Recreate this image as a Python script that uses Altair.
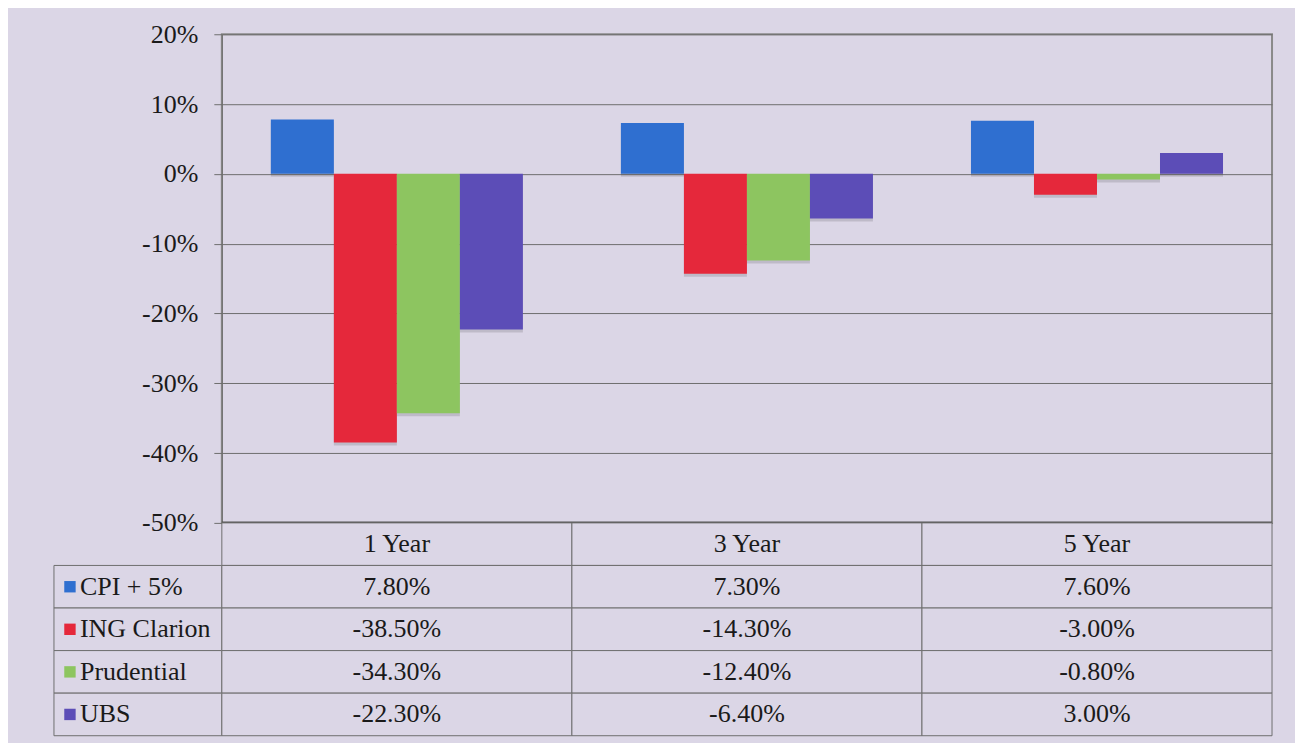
import altair as alt
import pandas as pd

periods = ["1 Year", "3 Year", "5 Year"]
series = ["CPI + 5%", "ING Clarion", "Prudential", "UBS"]
cpi = [7.8, 7.3, 7.6]
ing = [-38.5, -14.3, -3.0]
pru = [-34.3, -12.4, -0.8]
ubs = [-22.3, -6.4, 3.0]
colors = ["#2f6fd0", "#e5283b", "#8dc560", "#5c4db7"]
y_ticks = [20, 10, 0, -10, -20, -30, -40, -50]

BG = "#dbd6e6"
LINE = "#6e6e6e"
FONT = "Liberation Serif"
FS = 26

rows = []
for s, vals in zip(series, [cpi, ing, pru, ubs]):
    for p, v in zip(periods, vals):
        rows.append({"series": s, "period": p, "value": v})
df = pd.DataFrame(rows)

table_rows = ["hdr"] + series

cells = [{"row": "hdr", "period": p, "label": p} for p in periods]
for r in rows:
    cells.append({"row": r["series"], "period": r["period"], "label": f"{r['value']:.2f}%"})
cells_df = pd.DataFrame(cells)

color_scale = alt.Scale(domain=series, range=colors)
row_scale = alt.Scale(domain=table_rows, paddingInner=0, paddingOuter=0)

W = 1051

x_enc = alt.X("period:N", scale=alt.Scale(domain=periods, paddingInner=0.28, paddingOuter=0.14), axis=None)
xo_enc = alt.XOffset("series:N", scale=alt.Scale(domain=series, paddingInner=0, paddingOuter=0))

# soft drop shadow under the bars
shadow = alt.Chart(df).mark_bar(color="#000000", opacity=0.13, xOffset=3, yOffset=3).encode(
    x=x_enc, xOffset=xo_enc,
    y=alt.Y("value:Q", scale=alt.Scale(domain=[-50, 20], nice=False, zero=False)),
)

bars = alt.Chart(df).mark_bar().encode(
    x=x_enc,
    xOffset=xo_enc,
    y=alt.Y("value:Q",
            scale=alt.Scale(domain=[-50, 20], nice=False, zero=False),
            axis=alt.Axis(values=y_ticks, labelExpr="datum.value + '%'", title=None,
                          grid=True, gridColor=LINE, gridOpacity=1, tickColor=LINE, domainColor=LINE,
                          tickSize=8, labelFont=FONT, labelFontSize=FS, labelColor="#1a1a1a",
                          labelPadding=16)),
    color=alt.Color("series:N", scale=color_scale, legend=None),
)
base_line = alt.Chart(pd.DataFrame({"v": [-50]})).mark_rule(color="#555555", strokeWidth=3).encode(
    y=alt.Y("v:Q")
)
bar_chart = alt.layer(shadow, bars, base_line).properties(width=W, height=489)

empty = alt.Chart(pd.DataFrame({"a": [0]})).mark_point(opacity=0).properties(
    width=168, height=489, view=alt.ViewBackground(stroke="transparent")
)

# legend / label column
lab_df = pd.DataFrame({"series": series})
lab_rect = alt.Chart(lab_df).mark_rect(fill=BG, stroke=LINE, strokeWidth=1).encode(
    y=alt.Y("series:N", scale=row_scale, axis=None),
    x=alt.value(0), x2=alt.value(168),
)
lab_sq = alt.Chart(lab_df).mark_point(shape="square", filled=True, size=130, opacity=1).encode(
    y=alt.Y("series:N", scale=row_scale, axis=None),
    x=alt.value(16),
    color=alt.Color("series:N", scale=color_scale, legend=None),
)
lab_txt = alt.Chart(lab_df).mark_text(align="left", font=FONT, fontSize=FS, color="#1a1a1a").encode(
    y=alt.Y("series:N", scale=row_scale, axis=None),
    x=alt.value(26),
    text="series:N",
)
labels = alt.layer(lab_rect, lab_sq, lab_txt).properties(
    width=168, height=213, view=alt.ViewBackground(stroke="transparent")
)

# value table
tab_x = alt.X("period:N", scale=alt.Scale(domain=periods, paddingInner=0, paddingOuter=0), axis=None)
tab_y = alt.Y("row:N", scale=row_scale, axis=None)
tab_rect = alt.Chart(cells_df).mark_rect(fill=BG, stroke=LINE, strokeWidth=1).encode(x=tab_x, y=tab_y)
tab_txt = alt.Chart(cells_df).mark_text(font=FONT, fontSize=FS, color="#1a1a1a").encode(
    x=tab_x, y=tab_y, text="label:N"
)
table = alt.layer(tab_rect, tab_txt).properties(
    width=W, height=213, view=alt.ViewBackground(stroke="transparent")
)

chart = alt.concat(empty, bar_chart, labels, table, columns=2, spacing=0, bounds="flush").properties(
    padding={"left": 44, "top": 12, "right": 20, "bottom": 5},
    background=BG,
).configure_view(stroke="#8a8a8a", strokeWidth=2)

chart.save("out.html", embed_options={"renderer": "svg", "actions": False})
